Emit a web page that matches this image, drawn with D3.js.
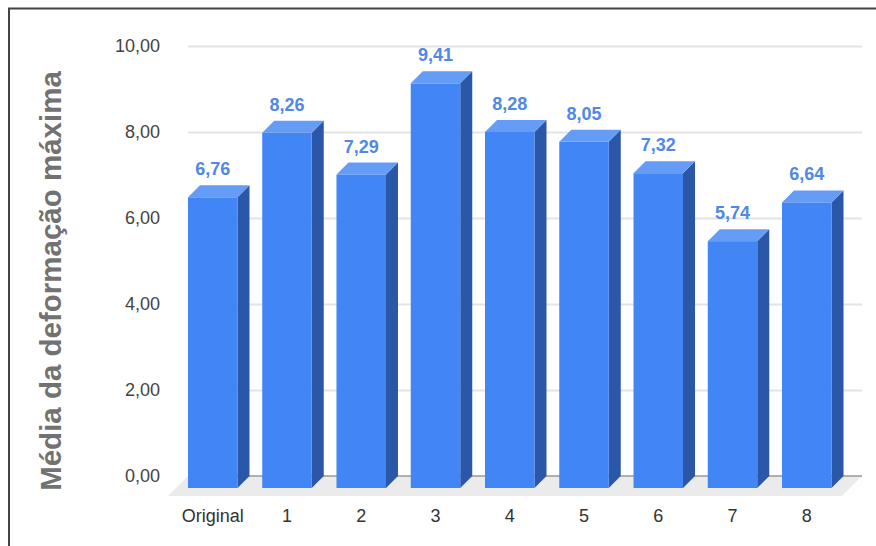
<!DOCTYPE html>
<html>
<head>
<meta charset="utf-8">
<script src="https://cdn.jsdelivr.net/npm/d3@7"></script>
<style>
  html, body { margin: 0; padding: 0; background: #fff; }
  svg { display: block; font-family: "Liberation Sans", Arial, sans-serif; }
</style>
</head>
<body>
<svg id="chart" width="876" height="546"></svg>
<script>
// Chart data
const categories = ["Original", "1", "2", "3", "4", "5", "6", "7", "8"];
const values = [6.76, 8.26, 7.29, 9.41, 8.28, 8.05, 7.32, 5.74, 6.64];
const yTicks = [0, 2, 4, 6, 8, 10];
const yTitle = "Média da deformação máxima";

const fmt = v => d3.format(".2f")(v).replace(".", ",");

const svg = d3.select("#chart");

// Back wall of the 3D plot area
const wallLeft = 188, wallRight = 862;
const depth = 12;      // bar depth offset (right/up)
const floorDepth = 20; // floor extends further forward than the bars

const y = d3.scaleLinear().domain([0, 10]).range([476, 46]);

// Bars are positioned on the front plane
const x = d3.scaleBand()
  .domain(categories)
  .range([175.6, 843.9])
  .paddingInner(1 / 3)
  .paddingOuter(1 / 6);

// Frame
svg.append("path")
  .attr("d", "M9,560 L9,8.5 L880,8.5")
  .attr("fill", "none")
  .attr("stroke", "#444")
  .attr("stroke-width", 2);

// Gridlines and tick labels on the back wall
const yAxis = d3.axisLeft(y)
  .tickValues(yTicks)
  .tickSize(wallRight - wallLeft)
  .tickPadding(28)
  .tickFormat(fmt);

const gAxis = svg.append("g")
  .attr("transform", `translate(${wallRight},0)`)
  .call(yAxis);
gAxis.select(".domain").remove();
gAxis.selectAll(".tick line")
  .attr("stroke", d => d === 0 ? "none" : "#e3e3e3")
  .attr("stroke-width", 2);
gAxis.selectAll(".tick text")
  .attr("fill", "#444")
  .style("font-size", "18px")
  .style("font-family", "'Liberation Sans', Arial, sans-serif");

// Floor
const y0 = y(0);
svg.append("path")
  .attr("d", `M${wallLeft},${y0} L${wallRight},${y0} L${wallRight - floorDepth},${y0 + floorDepth} L${wallLeft - floorDepth},${y0 + floorDepth} Z`)
  .attr("fill", "#ebebeb");

// Baseline along the back wall
svg.append("line")
  .attr("x1", wallLeft).attr("x2", wallRight)
  .attr("y1", y0).attr("y2", y0)
  .attr("stroke", "#999")
  .attr("stroke-width", 1.5);

// Bars
const bars = svg.append("g").selectAll("g")
  .data(categories.map((c, i) => ({ c, v: values[i] })))
  .join("g");

bars.each(function(d) {
  const g = d3.select(this);
  const x0 = x(d.c), x1 = x0 + x.bandwidth();
  const yTop = y(d.v) + depth;     // front top edge
  const yBot = y0 + depth;         // front bottom edge
  // side face
  g.append("path")
    .attr("d", `M${x1},${yTop} L${x1 + depth},${yTop - depth} L${x1 + depth},${yBot - depth} L${x1},${yBot} Z`)
    .attr("fill", "#2b57a9");
  // top face
  g.append("path")
    .attr("d", `M${x0},${yTop} L${x0 + depth},${yTop - depth} L${x1 + depth},${yTop - depth} L${x1},${yTop} Z`)
    .attr("fill", "#659cf5");
  // front face
  g.append("rect")
    .attr("x", x0).attr("y", yTop)
    .attr("width", x.bandwidth())
    .attr("height", yBot - yTop)
    .attr("fill", "#4285f4");
  // value label
  g.append("text")
    .attr("x", x0 + x.bandwidth() / 2)
    .attr("y", y(d.v) - 10)
    .attr("text-anchor", "middle")
    .attr("fill", "#5088e6")
    .style("font-size", "18px")
    .style("font-weight", "bold")
    .text(fmt(d.v));
});

// Category labels
svg.append("g").selectAll("text")
  .data(categories)
  .join("text")
  .attr("x", d => x(d) + x.bandwidth() / 2)
  .attr("y", 522)
  .attr("text-anchor", "middle")
  .attr("fill", "#333")
  .style("font-size", "18px")
  .text(d => d);

// Y axis title
svg.append("text")
  .attr("transform", "translate(61,281) rotate(-90)")
  .attr("text-anchor", "middle")
  .attr("fill", "#727272")
  .style("font-size", "29.5px")
  .style("font-weight", "bold")
  .text(yTitle);
</script>
</body>
</html>
